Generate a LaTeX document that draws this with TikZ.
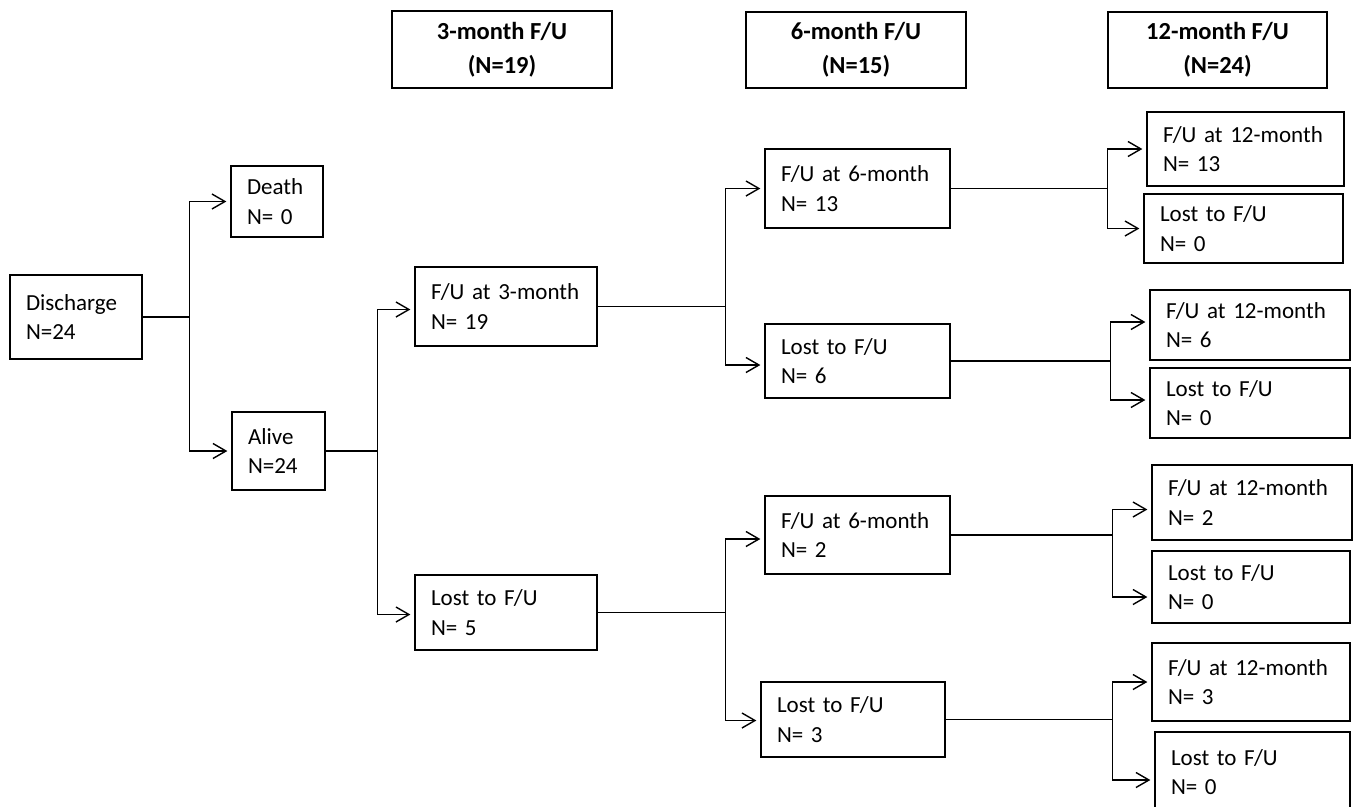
\documentclass[tikz,border=0pt]{standalone}
\usepackage{fontspec}
\setmainfont{Carlito}
\usetikzlibrary{arrows.meta}
\tikzset{
  bx/.style n args={3}{draw=black, line width=1.3pt, rectangle, inner xsep=16pt, inner ysep=2pt,
     minimum width=#1, minimum height=#2, text width=#3, align=left,
     font=\fontsize{23}{29.5}\selectfont},
  hd/.style n args={2}{draw=black, line width=1.3pt, rectangle, minimum width=#1, minimum height=#2,
     align=center, font=\fontsize{24.5}{34}\selectfont\bfseries},
  ln/.style={line width=1.2pt, black},
  arr/.style={ln, -{Straight Barb[length=13pt,width=15pt,line width=1.4pt]}, shorten >=4pt}
}
\begin{document}
\begin{tikzpicture}[x=1pt,y=-1pt]
\useasboundingbox (0,0) rectangle (1356,806);
% headers
\node[hd={220pt}{77pt}] (h3) at (502,49.5) {3-month F/U\\(N=19)};
\node[hd={220pt}{76pt}] (h6) at (856,50) {6-month F/U\\(N=15)};
\node[hd={219pt}{76pt}] (h12) at (1217.5,50) {12-month F/U\\(N=24)};
% boxes
\node[bx={132pt}{84pt}{100pt}] (dis) at (76,317) {Discharge\\N=24};
\node[bx={92pt}{71pt}{60pt}] (death) at (277,201.5) {Death\\N= 0};
\node[bx={93pt}{78pt}{61pt}] (alive) at (278.5,451) {Alive\\N=24};
\node[bx={182pt}{79pt}{150pt}] (fu3) at (506,306.5) {F/U at 3-month\\N= 19};
\node[bx={182pt}{75pt}{150pt}] (lost3) at (506,612.5) {Lost to F/U\\N= 5};
\node[bx={185pt}{79pt}{153pt}] (fu6a) at (857.5,188.5) {F/U at 6-month\\N= 13};
\node[bx={185pt}{74pt}{153pt}] (lost6a) at (857.5,361) {Lost to F/U\\N= 6};
\node[bx={185pt}{78pt}{153pt}] (fu6b) at (857.5,535) {F/U at 6-month\\N= 2};
\node[bx={184pt}{75pt}{152pt}] (lost6b) at (853,719.5) {Lost to F/U\\N= 3};
\node[bx={197pt}{74pt}{165pt}] (fu12a) at (1245.5,149) {F/U at 12-month\\N= 13};
\node[bx={199pt}{69pt}{167pt}] (lost12a) at (1243.5,228.5) {Lost to F/U\\N= 0};
\node[bx={200pt}{70pt}{168pt}] (fu12b) at (1250,325) {F/U at 12-month\\N= 6};
\node[bx={200pt}{70pt}{168pt}] (lost12b) at (1250,403) {Lost to F/U\\N= 0};
\node[bx={200pt}{75pt}{168pt}] (fu12c) at (1252,502.5) {F/U at 12-month\\N= 2};
\node[bx={198pt}{72pt}{166pt}] (lost12c) at (1251,587) {Lost to F/U\\N= 0};
\node[bx={198pt}{78pt}{166pt}] (fu12d) at (1251,682) {F/U at 12-month\\N= 3};
\node[bx={195pt}{80pt}{163pt}] (lost12d) at (1252.5,772) {Lost to F/U\\N= 0};
% branch points
\coordinate (b1) at ([xshift=47pt]dis.east);
\coordinate (b2) at ([xshift=52pt]alive.east);
\coordinate (b3) at ([xshift=128pt]fu3.east);
\coordinate (b4) at ([xshift=128pt]lost3.east);
\coordinate (b5) at ([xshift=157pt]fu6a.east);
\coordinate (b6) at ([xshift=160pt]lost6a.east);
\coordinate (b7) at ([xshift=162pt]fu6b.east);
\coordinate (b8) at ([xshift=167pt]lost6b.east);
% connectors
\draw[ln] (dis.east) -- (b1);
\draw[arr] (b1) |- (death.west);
\draw[arr] (b1) |- (alive.west);
\draw[ln] (alive.east) -- (b2);
\draw[arr] (b2) |- ([yshift=-3pt]fu3.west);
\draw[arr] (b2) |- ([yshift=-2pt]lost3.west);
\draw[ln] (fu3.east) -- (b3);
\draw[arr] (b3) |- (fu6a.west);
\draw[arr] (b3) |- ([yshift=-4pt]lost6a.west);
\draw[ln] (lost3.east) -- (b4);
\draw[arr] (b4) |- ([yshift=-4pt]fu6b.west);
\draw[arr] (b4) |- ([yshift=-1pt]lost6b.west);
\draw[ln] (fu6a.east) -- (b5);
\draw[arr] (b5) |- (fu12a.west);
\draw[arr] (b5) |- (lost12a.west);
\draw[ln] (lost6a.east) -- (b6);
\draw[arr] (b6) |- ([yshift=3pt]fu12b.west);
\draw[arr] (b6) |- ([yshift=3pt]lost12b.west);
\draw[ln] (fu6b.east) -- (b7);
\draw[arr] (b7) |- ([yshift=-7pt]fu12c.west);
\draw[arr] (b7) |- ([yshift=-10pt]lost12c.west);
\draw[ln] (lost6b.east) -- (b8);
\draw[arr] (b8) |- (fu12d.west);
\draw[arr] (b8) |- ([yshift=-8pt]lost12d.west);
\end{tikzpicture}
\end{document}
